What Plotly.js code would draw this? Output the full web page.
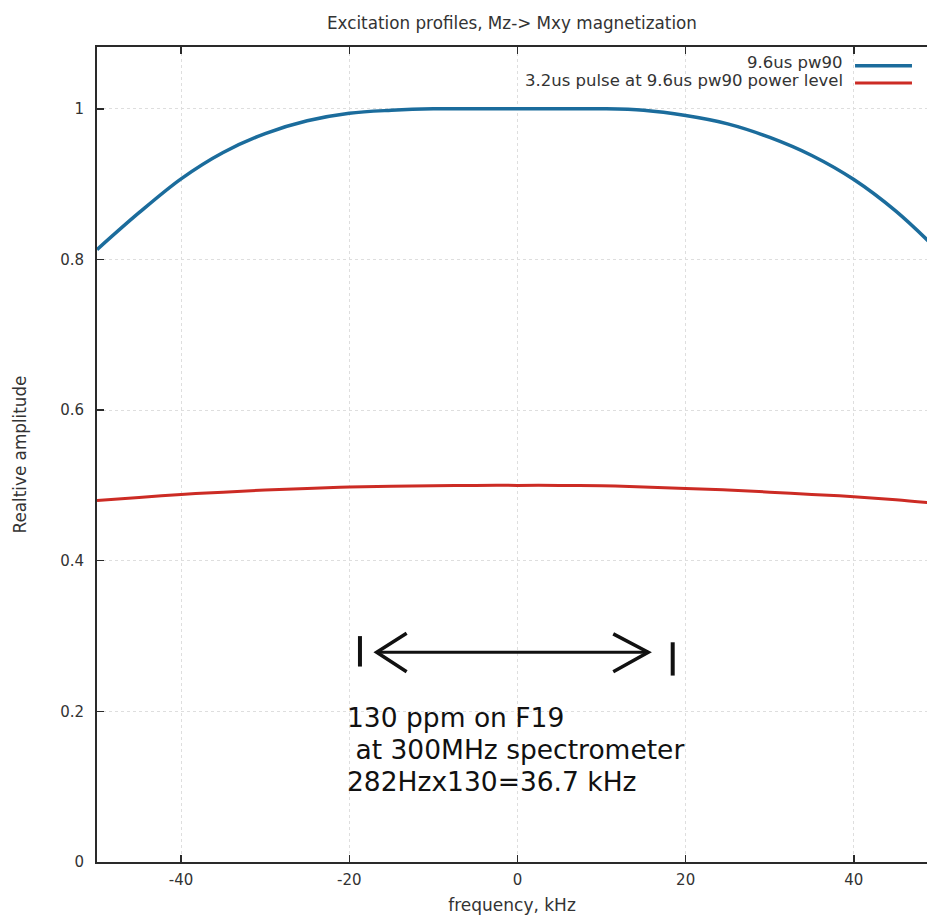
<!DOCTYPE html>
<html>
<head>
<meta charset="utf-8">
<script src="https://cdn.plot.ly/plotly-3.0.1.min.js"></script>
<style>html,body{margin:0;padding:0;background:#fff;}#chart{width:927px;height:915px;}</style>
</head>
<body>
<div id="chart"></div>
<script>
// frequency offset, kHz
const freq = [-50,-45,-40,-35,-30,-25,-20,-15,-10,-5,0,5,10,15,20,25,30,35,40,45,50];
// 9.6us pw90 excitation profile
const pw90 = [0.813,0.862,0.907,0.942,0.967,0.984,0.994,0.998,1.0,1.0,1.0,1.0,1.0,0.998,0.991,0.980,0.962,0.938,0.906,0.864,0.812];
// 3.2us pulse at 9.6us pw90 power level
const short32 = [0.480,0.484,0.488,0.491,0.494,0.496,0.498,0.499,0.4995,0.500,0.500,0.500,0.4995,0.498,0.496,0.494,0.491,0.488,0.485,0.481,0.476];
const seriesNames = ["9.6us pw90", "3.2us pulse at 9.6us pw90 power level"];
const xTicks = [-40,-20,0,20,40];
const yTicks = [0,0.2,0.4,0.6,0.8,1];
const yTickText = ["0","0.2","0.4","0.6","0.8","1"];
const noteLines = ["130 ppm on F19", "\u00a0at 300MHz spectrometer", "282Hzx130=36.7 kHz"];

const FONT = "DejaVu Sans, Verdana, sans-serif";
const blue = "#1b6c9c", red = "#cc2b24";

const traces = [
  {x: freq, y: pw90, type: "scatter", mode: "lines", name: seriesNames[0],
   line: {color: blue, width: 3.5, shape: "spline"}, showlegend: false},
  {x: freq, y: short32, type: "scatter", mode: "lines", name: seriesNames[1],
   line: {color: red, width: 3, shape: "spline"}, showlegend: false}
];

const annotations = [
  {xref: "paper", yref: "paper", x: 0.9012, y: (862 - 62.5) / 815, xanchor: "right", yanchor: "middle",
   text: seriesNames[0], showarrow: false, font: {family: FONT, size: 16.5, color: "#333"}},
  {xref: "paper", yref: "paper", x: 0.9012, y: (862 - 81) / 815, xanchor: "right", yanchor: "middle",
   text: seriesNames[1], showarrow: false, font: {family: FONT, size: 16.5, color: "#333"}},
  {xref: "x", yref: "y", x: -20.5, y: 0.1912, xanchor: "left", yanchor: "middle",
   text: noteLines[0], showarrow: false, font: {family: FONT, size: 26.5, color: "#111"}},
  {xref: "x", yref: "y", x: -20.5, y: 0.150, xanchor: "left", yanchor: "middle",
   text: noteLines[1], showarrow: false, font: {family: FONT, size: 26.5, color: "#111"}},
  {xref: "x", yref: "y", x: -20.5, y: 0.1075, xanchor: "left", yanchor: "middle",
   text: noteLines[2], showarrow: false, font: {family: FONT, size: 26.5, color: "#111"}}
];

const shapes = [
  // legend samples
  {type: "line", xref: "paper", yref: "paper", x0: 0.9133, x1: 0.9819, y0: 0.9771, y1: 0.9771,
   line: {color: blue, width: 3.5}},
  {type: "line", xref: "paper", yref: "paper", x0: 0.9133, x1: 0.9819, y0: 0.9558, y1: 0.9558,
   line: {color: red, width: 3}},
  // double arrow
  {type: "line", xref: "x", yref: "y", x0: -16.6, x1: 15.4, y0: 0.2784, y1: 0.2784,
   line: {color: "#111", width: 3}},
  {type: "path", xref: "x", yref: "y", path: "M -13.18 0.3036 L -16.74 0.2784 L -13.18 0.2527",
   line: {color: "#111", width: 3.5}},
  {type: "path", xref: "x", yref: "y", path: "M 11.39 0.3028 L 15.55 0.2784 L 11.39 0.2527",
   line: {color: "#111", width: 3.5}},
  {type: "line", xref: "x", yref: "y", x0: -18.73, x1: -18.73, y0: 0.2595, y1: 0.2999,
   line: {color: "#111", width: 4}},
  {type: "line", xref: "x", yref: "y", x0: 18.46, x1: 18.46, y0: 0.2475, y1: 0.2917,
   line: {color: "#111", width: 4}}
];

const axisCommon = {
  showline: true, linecolor: "#2a2a2a", linewidth: 2,
  ticks: "inside", ticklen: 7, tickwidth: 1.5, tickcolor: "#2a2a2a",
  showgrid: true, gridcolor: "#dedede", griddash: "dot", gridwidth: 1,
  zeroline: false, tickfont: {family: FONT, size: 15, color: "#333"}
};

const layout = {
  width: 927, height: 915,
  margin: {l: 97, r: 0, t: 47, b: 53},
  paper_bgcolor: "#fff", plot_bgcolor: "#fff",
  title: {text: "Excitation profiles, Mz-> Mxy magnetization", font: {family: FONT, size: 16.8, color: "#333"},
          x: 0.5, xref: "paper", y: 1 - 23/915, yref: "container", yanchor: "middle"},
  xaxis: Object.assign({}, axisCommon, {
    range: [-50, 48.7], tickvals: xTicks, ticktext: xTicks.map(String), mirror: "ticks",
    ticklabelstandoff: 3,
    title: {text: "frequency, kHz", font: {family: FONT, size: 17, color: "#333"}, standoff: 12}
  }),
  yaxis: Object.assign({}, axisCommon, {
    range: [0, 1.082], tickvals: yTicks, ticktext: yTickText, mirror: false,
    ticklabelstandoff: 8,
    title: {text: "Realtive amplitude", font: {family: FONT, size: 16.8, color: "#333"}, standoff: 29}
  }),
  showlegend: false,
  annotations: annotations,
  shapes: shapes
};

Plotly.newPlot("chart", traces, layout, {displayModeBar: false, staticPlot: true});
</script>
</body>
</html>
